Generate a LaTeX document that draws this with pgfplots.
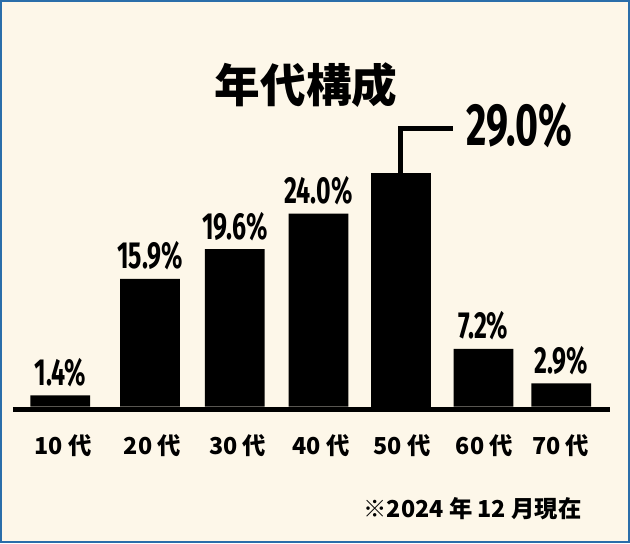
\documentclass[border=0pt]{standalone}
\usepackage{pgfplots}
\pgfplotsset{compat=1.18}
\usepackage{fontspec}
\newfontfamily\cjk{Noto Sans CJK JP}
\newfontfamily\numfont[FakeStretch=0.66]{Fira Sans}
\definecolor{cream}{HTML}{FDF7E9}
\definecolor{framec}{HTML}{2A6EAA}

\begin{document}
\begin{tikzpicture}
\begin{axis}[
    x=1bp, y=8.07bp,
    xmin=0, xmax=630,
    ymin=-16.85, ymax=50.43,
    xtick=\empty, ytick=\empty,
    axis background/.style={fill=cream},
    axis line style={draw=framec, line width=2bp},
    clip=false,
    ybar, bar shift=0pt, bar width=60,
    nodes near coords={\pgfmathprintnumber{\pgfplotspointmeta}\%},
    nodes near coords style={
        font=\numfont\bfseries\fontsize{38}{38}\selectfont,
        anchor=base, inner sep=0pt, yshift=10bp,
        /pgf/number format/fixed,
        /pgf/number format/fixed zerofill,
        /pgf/number format/precision=1,
        /pgf/number format/assume math mode=true
    },
]

% age groups, bars at their drawn positions
\addplot[fill=black, draw=none] coordinates {
    (59.5,1.4) (149.5,15.9) (234.5,19.6) (318.5,24.0) (484,7.2) (562,2.9)
};
% 50s bar, labelled separately with a leader line
\addplot[fill=black, draw=none, nodes near coords=] coordinates {(401,29.0)};

\draw[line width=5bp] (axis cs:12,-0.31) -- (axis cs:611,-0.31);
\draw[line width=5bp] (axis cs:400.5,29.0) |- (axis cs:453,34.63);
\node[font=\numfont\bfseries\fontsize{60}{60}\selectfont, anchor=base]
    at (axis cs:520,32.47) {29.0\%};

\node[font=\cjk\bfseries\fontsize{46}{46}\selectfont] at (axis cs:306,40.0) {年代構成};

\begin{scope}[every node/.style={font=\cjk\bfseries\fontsize{23.5}{23.5}\selectfont, anchor=base}]
\node at (axis cs:62.5,-5.95) {10 代};
\node at (axis cs:152,-5.95) {20 代};
\node at (axis cs:237.5,-5.95) {30 代};
\node at (axis cs:321,-5.95) {40 代};
\node at (axis cs:402.5,-5.95) {50 代};
\node at (axis cs:485,-5.95) {60 代};
\node at (axis cs:561.5,-5.95) {70 代};
\node at (axis cs:473,-13.75) {※2024 年 12 月現在};
\end{scope}

\end{axis}
\end{tikzpicture}
\end{document}
